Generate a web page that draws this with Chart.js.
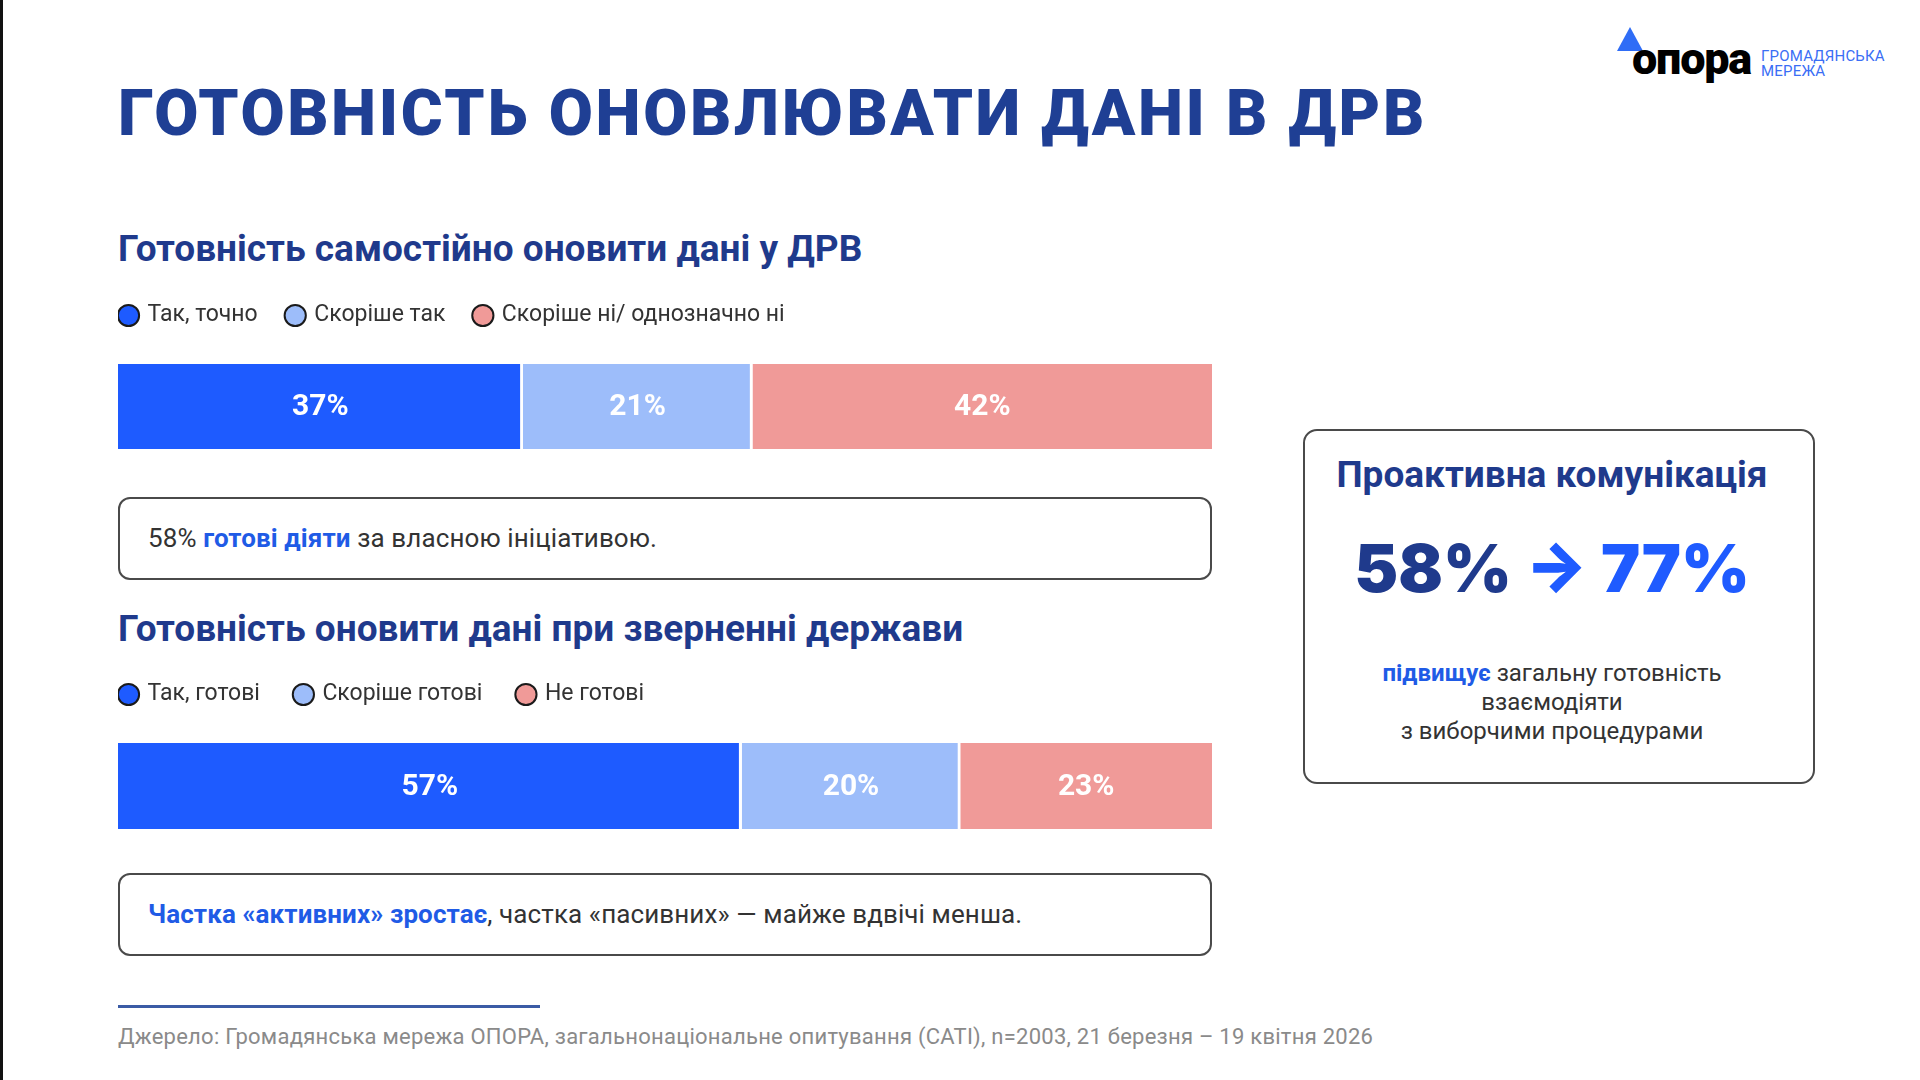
<!DOCTYPE html>
<html lang="uk">
<head>
<meta charset="utf-8">
<script src="https://cdn.jsdelivr.net/npm/chart.js@4.4.1/dist/chart.umd.min.js"></script>
<style>
  html, body { margin:0; padding:0; background:#fff; }
  body { width:1920px; height:1080px; position:relative; overflow:hidden; font-family:Roboto, "Noto Sans", sans-serif; }
  .abs { position:absolute; white-space:nowrap; }
  #leftbar { position:absolute; left:0; top:0; width:3px; height:1080px; background:#111; }
  #title { left:118px; top:82px; font-size:64px; line-height:64px; font-weight:900; color:#1f3f94; letter-spacing:2.6px; font-family:Roboto, sans-serif; }
  .h2 { left:118px; font-size:37px; line-height:37px; font-weight:700; color:#1f3a8c; }
  .box { position:absolute; left:118px; width:1090px; height:79px; border:2px solid #4a4a4a; border-radius:12px; box-sizing:content-box; }
  .boxtext { position:absolute; left:28px; top:0; height:79px; line-height:79px; font-size:26px; letter-spacing:0.1px; color:#333; white-space:nowrap; }
  .accent { color:#1f5be6; font-weight:700; }
  #panel { position:absolute; left:1303px; top:429px; width:508px; height:351px; border:2px solid #4a4a4a; border-radius:14px; }
  .pc { position:absolute; left:0; width:494px; text-align:center; white-space:nowrap; }
  #footline { position:absolute; left:118px; top:1005px; width:422px; height:3px; background:#3b5ba5; }
  #foot { left:118px; top:1026px; font-size:22px; line-height:22px; letter-spacing:0.25px; color:#8a8a8a; }
  .chartbox { position:absolute; left:118px; width:1094px; }
  .logotxt { position:absolute; left:1761px; font-size:15px; line-height:15px; color:#3a6ef5; letter-spacing:0.2px; white-space:nowrap; }
</style>
</head>
<body>
<div id="leftbar"></div>

<!-- logo -->
<div class="abs" style="left:1617px;top:27px;width:0;height:0;border-left:13px solid transparent;border-right:13px solid transparent;border-bottom:24px solid #2f6df6;"></div>
<div class="abs" style="left:1632px;top:36px;font-size:45px;line-height:45px;font-weight:900;color:#000;letter-spacing:-1.2px;font-family:Roboto, sans-serif;">опора</div>
<div class="logotxt" style="top:49px;">ГРОМАДЯНСЬКА</div>
<div class="logotxt" style="top:64px;">МЕРЕЖА</div>

<div id="title" class="abs">ГОТОВНІСТЬ ОНОВЛЮВАТИ ДАНІ В ДРВ</div>

<div class="abs h2" style="top:230px;">Готовність самостійно оновити дані у ДРВ</div>
<div class="chartbox" style="top:274px;height:175px;"><canvas id="c1" width="1094" height="175"></canvas></div>

<div class="box" style="top:497px;"><div class="boxtext">58% <span class="accent">готові діяти</span> за власною ініціативою.</div></div>

<div class="abs h2" style="top:610px;">Готовність оновити дані при зверненні держави</div>
<div class="chartbox" style="top:647px;height:182px;"><canvas id="c2" width="1094" height="182"></canvas></div>

<div class="box" style="top:873px;"><div class="boxtext"><span class="accent">Частка «активних» зростає</span>, частка «пасивних» — майже вдвічі менша.</div></div>

<div id="panel">
  <div class="pc" style="top:25px;font-size:37px;line-height:37px;font-weight:700;color:#1f3a8c;">Проактивна комунікація</div>
  <div class="pc" style="top:104px;font-size:66px;line-height:66px;font-weight:900;font-family:Inter, Roboto, sans-serif;"><span style="color:#1f3a8c;">58%</span> <span style="color:#1f5bff;">→ 77%</span></div>
  <div class="pc" style="top:228px;font-size:24px;line-height:29px;color:#333;"><span class="accent">підвищує</span> загальну готовність<br>взаємодіяти<br>з виборчими процедурами</div>
</div>

<div id="footline"></div>
<div id="foot" class="abs">Джерело: Громадянська мережа ОПОРА, загальнонаціональне опитування (CATI), n=2003, 21 березня – 19 квітня 2026</div>

<script>
// ---- data ----
const categories1 = ['Так, точно', 'Скоріше так', 'Скоріше ні/ однозначно ні'];
const values1 = [37, 21, 42];
const categories2 = ['Так, готові', 'Скоріше готові', 'Не готові'];
const values2 = [57, 20, 23];
const barColors = ['#1e5bff', '#9dbdfa', '#f09a98'];

const barLabels = {
  id: 'barLabels',
  afterDatasetsDraw(chart) {
    const ctx = chart.ctx;
    chart.data.datasets.forEach((ds, i) => {
      chart.getDatasetMeta(i).data.forEach((el, j) => {
        const p = el.getProps(['x', 'base', 'y'], true);
        ctx.save();
        ctx.fillStyle = '#ffffff';
        ctx.font = '700 30px Roboto, sans-serif';
        ctx.textAlign = 'center';
        ctx.textBaseline = 'middle';
        ctx.fillText(ds.data[j] + '%', (p.x + p.base) / 2, p.y + 1);
        ctx.restore();
      });
    });
  }
};

function legendFix(height, shift) {
  return {
    id: 'legendFix',
    beforeLayout(chart) {
      const lg = chart.legend;
      if (lg && !lg._patched) {
        const orig = lg.fit;
        lg.fit = function () { orig.call(this); this.height = height; };
        lg._patched = true;
      }
    },
    afterLayout(chart) {
      if (chart.legend) { chart.legend.left += shift; }
    }
  };
}

function makeChart(id, cats, vals, legendHeight, pad) {
  const datasets = cats.map((c, i) => ({
    label: c,
    data: [vals[i]],
    backgroundColor: barColors[i],
    borderColor: '#ffffff',
    borderWidth: { top: 0, bottom: 0, left: 0, right: i < cats.length - 1 ? 3 : 0 },
    borderSkipped: false,
    barPercentage: 1,
    categoryPercentage: 1
  }));
  return new Chart(document.getElementById(id), {
    type: 'bar',
    data: { labels: [''], datasets },
    options: {
      indexAxis: 'y',
      responsive: false,
      animation: false,
      devicePixelRatio: 1,
      layout: { padding: 0 },
      scales: {
        x: { stacked: true, min: 0, max: 100, display: false },
        y: { stacked: true, display: false }
      },
      plugins: {
        tooltip: { enabled: false },
        legend: {
          display: true,
          position: 'top',
          align: 'start',
          labels: {
            usePointStyle: true,
            pointStyle: 'circle',
            boxWidth: 15,
            boxHeight: 15,
            padding: pad,
            color: '#333',
            font: { family: 'Roboto, sans-serif', size: 23 },
            generateLabels(chart) {
              return chart.data.datasets.map((ds, i) => ({
                text: ds.label,
                fillStyle: ds.backgroundColor,
                strokeStyle: '#1a1a1a',
                lineWidth: 2,
                pointStyle: 'circle',
                hidden: false,
                datasetIndex: i,
                fontColor: '#333'
              }));
            }
          }
        }
      }
    },
    plugins: [barLabels, legendFix(legendHeight, 3 - pad)]
  });
}

makeChart('c1', categories1, values1, 90, 30);
makeChart('c2', categories2, values2, 96, 36);
</script>
</body>
</html>
